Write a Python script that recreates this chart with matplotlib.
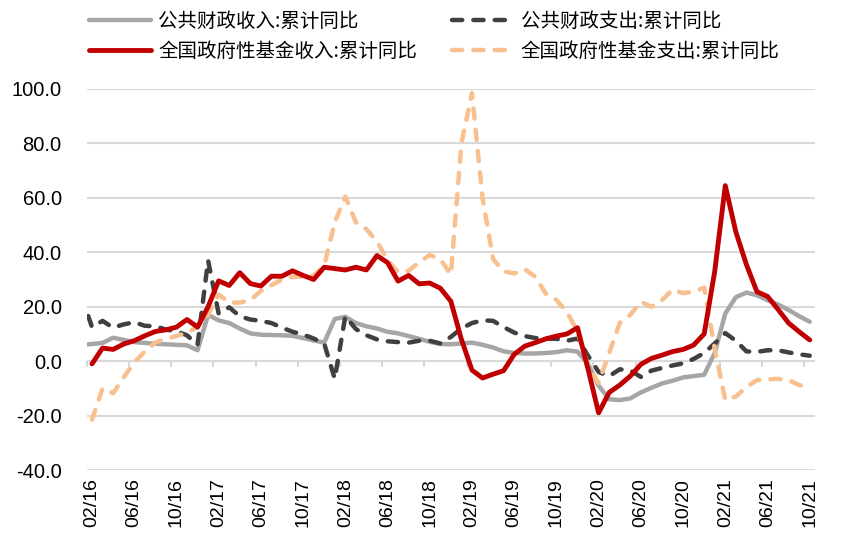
import numpy as np
import matplotlib.pyplot as plt
import matplotlib.ticker as mticker

# --- DATA ---
# months from 01/16 to 10/21; the 01/16 point only feeds the clipped left edge
MONTHS = [f"{m:02d}/{y % 100:02d}" for y in range(2016, 2022) for m in range(1, 13)][:70]

public_rev = [6.0,
    6.3, 6.7, 8.6, 7.8, 7.0, 6.7, 6.4, 6.2, 6.0, 5.8, 4.0, 17.0,
    15.0, 14.0, 12.0, 10.2, 9.7, 9.6, 9.5, 9.3, 8.5, 7.6, 6.8, 15.5,
    16.3, 14.0, 12.8, 12.0, 10.8, 10.2, 9.2, 8.2, 7.1, 6.3, 6.2, 6.5,
    6.8, 6.0, 5.0, 3.6, 3.0, 2.8, 2.8, 3.0, 3.3, 4.0, 3.5, -1.0,
    -9.0, -14.0, -14.3, -13.7, -11.5, -9.8, -8.2, -7.2, -6.0, -5.5, -5.0, 3.0,
    17.5, 23.5, 25.2, 24.2, 22.4, 20.8, 18.8, 16.5, 14.5]

public_exp = [24.0,
    12.5, 14.8, 12.3, 13.5, 14.3, 13.0, 12.8, 11.6, 11.0, 9.5, 6.0, 37.0,
    17.5, 19.8, 16.5, 15.3, 14.8, 14.0, 12.3, 10.8, 9.8, 8.3, 6.5, -6.5,
    16.5, 11.8, 9.5, 8.0, 7.3, 7.0, 6.8, 7.5, 7.5, 6.5, 8.9, 12.0,
    14.0, 15.0, 14.8, 12.5, 10.5, 9.2, 8.5, 8.3, 8.2, 7.5, 8.3, 2.0,
    -4.0, -5.5, -3.0, -3.4, -5.8, -3.5, -2.5, -1.6, -0.8, 0.8, 3.0, 6.5,
    10.3, 7.5, 3.6, 3.4, 4.0, 4.0, 3.2, 2.5, 2.0]

fund_rev = [np.nan,
    -1.0, 4.8, 4.3, 6.3, 7.5, 9.3, 10.9, 11.5, 12.5, 15.3, 12.5, 20.0,
    29.5, 27.8, 32.5, 28.5, 27.6, 31.2, 31.2, 33.2, 31.5, 30.0, 34.5, 34.0,
    33.5, 34.5, 33.5, 38.8, 36.2, 29.4, 31.5, 28.4, 28.7, 26.8, 22.0, 8.0,
    -3.3, -6.2, -4.8, -3.5, 2.5, 5.5, 6.8, 8.2, 9.2, 10.0, 12.3, -3.0,
    -19.0, -11.5, -8.8, -5.5, -1.2, 1.0, 2.2, 3.5, 4.3, 5.9, 10.0, 33.0,
    64.5, 47.5, 35.5, 25.5, 23.8, 19.0, 14.0, 10.8, 7.8]

fund_exp = [np.nan,
    -21.5, -10.0, -11.8, -6.0, -0.5, 3.5, 6.8, 8.3, 9.2, 10.5, 12.5, 17.0,
    24.5, 21.5, 21.5, 22.4, 25.8, 27.9, 30.0, 31.0, 31.0, 31.5, 35.0, 51.0,
    60.5, 51.0, 48.5, 44.0, 37.0, 32.8, 33.2, 36.3, 39.0, 37.5, 31.8, 80.0,
    98.5, 60.0, 37.5, 33.0, 32.2, 33.8, 31.0, 24.8, 22.5, 18.0, 11.0, -2.0,
    -8.0, 3.0, 14.0, 17.0, 21.8, 20.0, 22.4, 26.3, 25.0, 25.5, 27.0, 4.5,
    -14.3, -13.0, -9.5, -7.0, -6.7, -6.5, -7.0, -8.8, -9.5]

LABELS = ["公共财政收入:累计同比", "全国政府性基金收入:累计同比",
          "公共财政支出:累计同比", "全国政府性基金支出:累计同比"]

plt.rcParams['font.family'] = ['Noto Sans CJK SC', 'DejaVu Sans']
plt.rcParams['axes.unicode_minus'] = False

x = np.arange(len(MONTHS)) - 1  # 02/16 -> 0

fig = plt.figure(figsize=(8.41, 5.51), dpi=100)
ax = fig.add_axes([86.7 / 841, 1 - 470 / 551, (815 - 86.7) / 841, (470 - 89) / 551])

dash = (0, (2.3, 2.5))
l_gray, = ax.plot(x, public_rev, color='#A6A6A6', lw=3.2, solid_joinstyle='round', solid_capstyle='round')
l_dark, = ax.plot(x, public_exp, color='#404040', lw=3.2, ls=dash, dash_capstyle='round', dash_joinstyle='round')
l_org, = ax.plot(x, fund_exp, color='#F9C08F', lw=3.2, ls=dash, dash_capstyle='round', dash_joinstyle='round')
l_red, = ax.plot(x, fund_rev, color='#C00000', lw=3.5, solid_joinstyle='round', solid_capstyle='round')

ax.set_xlim(-0.5, 68.5)
ax.set_ylim(-40, 100)
ax.set_yticks(np.arange(-40, 101, 20))
ax.yaxis.set_major_formatter(mticker.FormatStrFormatter('%.1f'))
ax.grid(axis='y', color='#D9D9D9', lw=1.5)
ax.set_axisbelow(True)
for s in ax.spines.values():
    s.set_visible(False)

tick_idx = list(range(0, 69, 4))
ax.set_xticks(tick_idx)
ax.set_xticklabels([MONTHS[i + 1] for i in tick_idx], rotation=90,
                   fontfamily='Liberation Sans', fontsize=14)
ax.tick_params(axis='x', length=0, pad=6)
ax.tick_params(axis='y', length=0, pad=18)
for t in ax.get_yticklabels():
    t.set_fontfamily('Liberation Sans')
    t.set_fontsize(14.5)

# small tick marks sitting on the zero line (category boundaries)
sec = ax.secondary_xaxis(40 / 140)
sec.set_xticks([i - 0.5 for i in tick_idx])
sec.tick_params(axis='x', direction='out', length=4, width=1.5, color='#D9D9D9', labelbottom=False)
sec.spines['bottom'].set_visible(False)

fig.legend([l_gray, l_red, l_dark, l_org], LABELS, ncol=2, loc='upper left',
           bbox_to_anchor=(89 / 841, 1 - 11 / 551), frameon=False, fontsize=14,
           handlelength=3.2, handletextpad=0.35, columnspacing=1.8,
           labelspacing=0.45, borderpad=0, borderaxespad=0)

fig.savefig('out.png', dpi=100)
